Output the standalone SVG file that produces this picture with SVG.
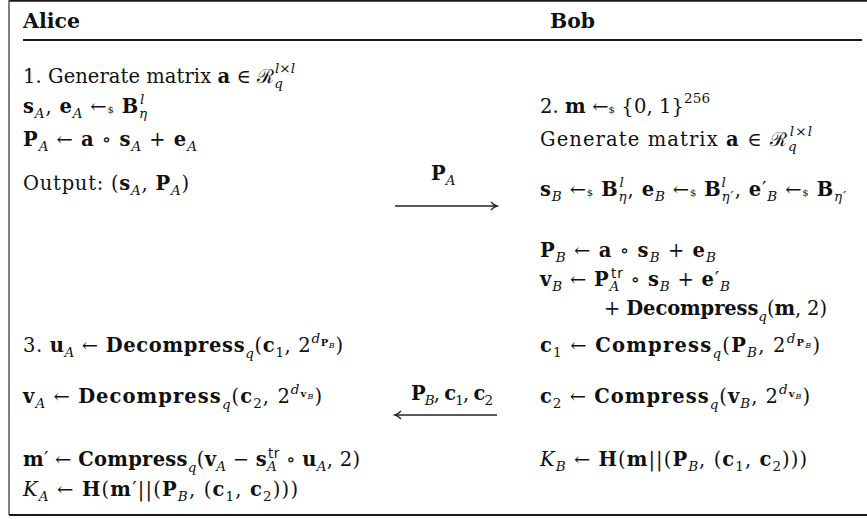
<svg xmlns="http://www.w3.org/2000/svg" width="867" height="519" viewBox="0 0 867 519">
<style>
text{font-family:"DejaVu Serif",serif;font-size:19.5px;fill:#111}
.b{font-weight:bold}
.i{font-style:italic}
.sc{font-size:13.5px}
.ss{font-size:10px}
.sx{font-size:8px}
.sf{font-family:"DejaVu Sans",sans-serif;font-style:normal}
.dl{font-size:10px}
.frame{stroke:#1a1a1a;stroke-width:2;fill:none}
.side{stroke:#555;stroke-width:1.5;fill:none}
.arr{stroke:#222;stroke-width:1.3;fill:none}
</style>
<rect width="867" height="519" fill="#fff"/>
<g id="frame">
<line class="frame" x1="9" y1="0.8" x2="867" y2="0.8"/>
<line class="side" x1="9" y1="0" x2="9" y2="515"/>
<line class="frame" x1="9" y1="515" x2="867" y2="515"/>
<line class="frame" x1="23" y1="40" x2="862" y2="40"/>
</g>
<g id="alice">
<text x="23" y="28" class="b" textLength="57" lengthAdjust="spacingAndGlyphs">Alice</text>
<text x="23" y="83" textLength="272">1. Generate matrix <tspan class="b">a</tspan> ∈ <tspan>ℛ</tspan><tspan class="sc i" dy="5">q</tspan><tspan class="sc i" dx="-8" dy="-15">l×l</tspan></text>
<text x="23" y="113" textLength="125"><tspan class="b">s</tspan><tspan class="sc i" dy="5">A</tspan><tspan dy="-5">, </tspan><tspan class="b">e</tspan><tspan class="sc i" dy="5">A</tspan><tspan dy="-5"> ←</tspan><tspan class="dl">$</tspan><tspan> </tspan><tspan class="b">B</tspan><tspan class="sc i" dy="5">η</tspan><tspan class="sc i" dx="-8" dy="-14">l</tspan></text>
<text x="23" y="146" textLength="174"><tspan class="b">P</tspan><tspan class="sc i" dy="5">A</tspan><tspan dy="-5"> ← </tspan><tspan class="b">a</tspan> ∘ <tspan class="b">s</tspan><tspan class="sc i" dy="5">A</tspan><tspan dy="-5"> + </tspan><tspan class="b">e</tspan><tspan class="sc i" dy="5">A</tspan></text>
<text x="23" y="190" textLength="166">Output: (<tspan class="b">s</tspan><tspan class="sc i" dy="5">A</tspan><tspan dy="-5">, </tspan><tspan class="b">P</tspan><tspan class="sc i" dy="5">A</tspan><tspan dy="-5">)</tspan></text>
<text x="23" y="352" textLength="320">3. <tspan class="b">u</tspan><tspan class="sc i" dy="5">A</tspan><tspan dy="-5"> ← </tspan><tspan class="b">Decompress</tspan><tspan class="sc i" dy="6">q</tspan><tspan dy="-6">(</tspan><tspan class="b">c</tspan><tspan class="sc" dy="5">1</tspan><tspan dy="-5">, 2</tspan><tspan class="sc i" dy="-9">d</tspan><tspan class="ss b" dy="3">P</tspan><tspan class="sx i" dy="2">B</tspan><tspan dy="4">)</tspan></text>
<text x="23" y="403" textLength="299"><tspan class="b">v</tspan><tspan class="sc i" dy="5">A</tspan><tspan dy="-5"> ← </tspan><tspan class="b">Decompress</tspan><tspan class="sc i" dy="6">q</tspan><tspan dy="-6">(</tspan><tspan class="b">c</tspan><tspan class="sc" dy="5">2</tspan><tspan dy="-5">, 2</tspan><tspan class="sc i" dy="-9">d</tspan><tspan class="ss b" dy="3">v</tspan><tspan class="sx i" dy="2">B</tspan><tspan dy="4">)</tspan></text>
<text x="23" y="466" textLength="337"><tspan class="b">m</tspan>′ ← <tspan class="b">Compress</tspan><tspan class="sc i" dy="6">q</tspan><tspan dy="-6">(</tspan><tspan class="b">v</tspan><tspan class="sc i" dy="5">A</tspan><tspan dy="-5"> − </tspan><tspan class="b">s</tspan><tspan class="sc i" dy="5">A</tspan><tspan class="sc sf" dx="-9" dy="-13">tr</tspan><tspan dy="8"> ∘ </tspan><tspan class="b">u</tspan><tspan class="sc i" dy="5">A</tspan><tspan dy="-5">, 2)</tspan></text>
<text x="23" y="496" textLength="275"><tspan class="i">K</tspan><tspan class="sc i" dy="5">A</tspan><tspan dy="-5"> ← </tspan><tspan class="b">H</tspan>(<tspan class="b">m</tspan>′||(<tspan class="b">P</tspan><tspan class="sc i" dy="5">B</tspan><tspan dy="-5">, (</tspan><tspan class="b">c</tspan><tspan class="sc" dy="5">1</tspan><tspan dy="-5">, </tspan><tspan class="b">c</tspan><tspan class="sc" dy="5">2</tspan><tspan dy="-5">)))</tspan></text>
</g>
<g id="bob">
<text x="550" y="28" class="b" textLength="45" lengthAdjust="spacingAndGlyphs">Bob</text>
<text x="540" y="113" textLength="170">2. <tspan class="b">m</tspan> ←<tspan class="dl">$</tspan> {0, 1}<tspan class="sc" dy="-10">256</tspan></text>
<text x="540" y="146" textLength="272">Generate matrix <tspan class="b">a</tspan> ∈ <tspan>ℛ</tspan><tspan class="sc i" dy="5">q</tspan><tspan class="sc i" dx="-8" dy="-15">l×l</tspan></text>
<text x="540" y="196" textLength="306"><tspan class="b">s</tspan><tspan class="sc i" dy="5">B</tspan><tspan dy="-5"> ←</tspan><tspan class="dl">$</tspan><tspan> </tspan><tspan class="b">B</tspan><tspan class="sc i" dy="5">η</tspan><tspan class="sc i" dx="-8" dy="-14">l</tspan><tspan dx="3" dy="9">, </tspan><tspan class="b">e</tspan><tspan class="sc i" dy="5">B</tspan><tspan dy="-5"> ←</tspan><tspan class="dl">$</tspan><tspan> </tspan><tspan class="b">B</tspan><tspan class="sc i" dy="5">η′</tspan><tspan class="sc i" dx="-13" dy="-14">l</tspan><tspan dx="8" dy="9">, </tspan><tspan class="b">e</tspan>′<tspan class="sc i" dy="5">B</tspan><tspan dy="-5"> ←</tspan><tspan class="dl">$</tspan><tspan> </tspan><tspan class="b">B</tspan><tspan class="sc i" dy="5">η′</tspan></text>
<text x="540" y="257" textLength="176"><tspan class="b">P</tspan><tspan class="sc i" dy="5">B</tspan><tspan dy="-5"> ← </tspan><tspan class="b">a</tspan> ∘ <tspan class="b">s</tspan><tspan class="sc i" dy="5">B</tspan><tspan dy="-5"> + </tspan><tspan class="b">e</tspan><tspan class="sc i" dy="5">B</tspan></text>
<text x="540" y="286" textLength="190"><tspan class="b">v</tspan><tspan class="sc i" dy="5">B</tspan><tspan dy="-5"> ← </tspan><tspan class="b">P</tspan><tspan class="sc i" dy="5">A</tspan><tspan class="sc sf" dx="-9" dy="-13">tr</tspan><tspan dy="8"> ∘ </tspan><tspan class="b">s</tspan><tspan class="sc i" dy="5">B</tspan><tspan dy="-5"> + </tspan><tspan class="b">e</tspan>′<tspan class="sc i" dy="5">B</tspan></text>
<text x="604" y="315" textLength="223">+ <tspan class="b">Decompress</tspan><tspan class="sc i" dy="6">q</tspan><tspan dy="-6">(</tspan><tspan class="b">m</tspan>, 2)</text>
<text x="540" y="352" textLength="280"><tspan class="b">c</tspan><tspan class="sc" dy="5">1</tspan><tspan dy="-5"> ← </tspan><tspan class="b">Compress</tspan><tspan class="sc i" dy="6">q</tspan><tspan dy="-6">(</tspan><tspan class="b">P</tspan><tspan class="sc i" dy="5">B</tspan><tspan dy="-5">, 2</tspan><tspan class="sc i" dy="-9">d</tspan><tspan class="ss b" dy="3">P</tspan><tspan class="sx i" dy="2">B</tspan><tspan dy="4">)</tspan></text>
<text x="540" y="403" textLength="270"><tspan class="b">c</tspan><tspan class="sc" dy="5">2</tspan><tspan dy="-5"> ← </tspan><tspan class="b">Compress</tspan><tspan class="sc i" dy="6">q</tspan><tspan dy="-6">(</tspan><tspan class="b">v</tspan><tspan class="sc i" dy="5">B</tspan><tspan dy="-5">, 2</tspan><tspan class="sc i" dy="-9">d</tspan><tspan class="ss b" dy="3">v</tspan><tspan class="sx i" dy="2">B</tspan><tspan dy="4">)</tspan></text>
<text x="540" y="466" textLength="267"><tspan class="i">K</tspan><tspan class="sc i" dy="5">B</tspan><tspan dy="-5"> ← </tspan><tspan class="b">H</tspan>(<tspan class="b">m</tspan>||(<tspan class="b">P</tspan><tspan class="sc i" dy="5">B</tspan><tspan dy="-5">, (</tspan><tspan class="b">c</tspan><tspan class="sc" dy="5">1</tspan><tspan dy="-5">, </tspan><tspan class="b">c</tspan><tspan class="sc" dy="5">2</tspan><tspan dy="-5">)))</tspan></text>
</g>
<g id="connectors">
<g id="msg1">
<text x="431" y="180"><tspan class="b">P</tspan><tspan class="sc i" dy="5">A</tspan></text>
<line class="arr" x1="395" y1="206" x2="497" y2="206"/>
<path class="arr" d="M491,202 Q494,205.2 497,206 Q494,206.8 491,210"/>
</g>
<g id="msg2">
<text x="411" y="400" textLength="82"><tspan class="b">P</tspan><tspan class="sc i" dy="5">B</tspan><tspan dy="-5">, </tspan><tspan class="b">c</tspan><tspan class="sc" dy="5">1</tspan><tspan dy="-5">, </tspan><tspan class="b">c</tspan><tspan class="sc" dy="5">2</tspan></text>
<line class="arr" x1="395" y1="415" x2="497" y2="415"/>
<path class="arr" d="M401,411 Q398,414.2 395,415 Q398,415.8 401,419"/>
</g>
</g>
</svg>
